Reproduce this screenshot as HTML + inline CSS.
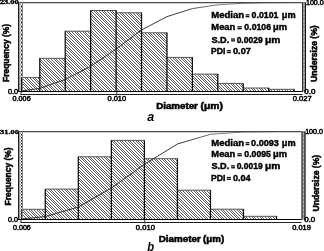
<!DOCTYPE html><html><head><meta charset="utf-8"><style>html,body{margin:0;padding:0;background:#fff;overflow:hidden}svg{display:block;filter:grayscale(1)}text{font-kerning:none}</style></head><body>
<svg width="324" height="251" viewBox="0 0 324 251">
<defs><pattern id="hatch" patternUnits="userSpaceOnUse" x="0" y="0" width="8" height="8"><rect x="0" y="0" width="1" height="1" fill="rgb(92,92,92)"/><rect x="3" y="0" width="1" height="1" fill="rgb(92,92,92)"/><rect x="5" y="0" width="1" height="1" fill="rgb(92,92,92)"/><rect x="1" y="1" width="1" height="1" fill="rgb(92,92,92)"/><rect x="4" y="1" width="1" height="1" fill="rgb(92,92,92)"/><rect x="6" y="1" width="1" height="1" fill="rgb(92,92,92)"/><rect x="2" y="2" width="1" height="1" fill="rgb(92,92,92)"/><rect x="5" y="2" width="1" height="1" fill="rgb(92,92,92)"/><rect x="7" y="2" width="1" height="1" fill="rgb(92,92,92)"/><rect x="0" y="3" width="1" height="1" fill="rgb(92,92,92)"/><rect x="3" y="3" width="1" height="1" fill="rgb(92,92,92)"/><rect x="6" y="3" width="1" height="1" fill="rgb(92,92,92)"/><rect x="1" y="4" width="1" height="1" fill="rgb(92,92,92)"/><rect x="4" y="4" width="1" height="1" fill="rgb(92,92,92)"/><rect x="7" y="4" width="1" height="1" fill="rgb(92,92,92)"/><rect x="0" y="5" width="1" height="1" fill="rgb(92,92,92)"/><rect x="2" y="5" width="1" height="1" fill="rgb(92,92,92)"/><rect x="5" y="5" width="1" height="1" fill="rgb(92,92,92)"/><rect x="1" y="6" width="1" height="1" fill="rgb(92,92,92)"/><rect x="3" y="6" width="1" height="1" fill="rgb(92,92,92)"/><rect x="6" y="6" width="1" height="1" fill="rgb(92,92,92)"/><rect x="2" y="7" width="1" height="1" fill="rgb(92,92,92)"/><rect x="4" y="7" width="1" height="1" fill="rgb(92,92,92)"/><rect x="7" y="7" width="1" height="1" fill="rgb(92,92,92)"/></pattern></defs>
<rect width="324" height="251" fill="#fff"/>
<rect x="21.50" y="77.60" width="18.30" height="13.40" fill="url(#hatch)"/>
<line x1="21.00" y1="77.60" x2="40.30" y2="77.60" stroke="#555" stroke-width="1.0"/>
<rect x="39.80" y="58.30" width="25.43" height="32.70" fill="url(#hatch)"/>
<line x1="39.30" y1="58.30" x2="65.73" y2="58.30" stroke="#555" stroke-width="1.0"/>
<rect x="65.23" y="31.20" width="25.43" height="59.80" fill="url(#hatch)"/>
<line x1="64.73" y1="31.20" x2="91.16" y2="31.20" stroke="#555" stroke-width="1.0"/>
<rect x="90.66" y="10.50" width="25.43" height="80.50" fill="url(#hatch)"/>
<line x1="90.16" y1="10.50" x2="116.59" y2="10.50" stroke="#555" stroke-width="1.0"/>
<rect x="116.09" y="12.80" width="25.43" height="78.20" fill="url(#hatch)"/>
<line x1="115.59" y1="12.80" x2="142.02" y2="12.80" stroke="#555" stroke-width="1.0"/>
<rect x="141.52" y="32.80" width="25.43" height="58.20" fill="url(#hatch)"/>
<line x1="141.02" y1="32.80" x2="167.45" y2="32.80" stroke="#555" stroke-width="1.0"/>
<rect x="166.95" y="57.40" width="25.43" height="33.60" fill="url(#hatch)"/>
<line x1="166.45" y1="57.40" x2="192.88" y2="57.40" stroke="#555" stroke-width="1.0"/>
<rect x="192.38" y="74.10" width="25.43" height="16.90" fill="url(#hatch)"/>
<line x1="191.88" y1="74.10" x2="218.31" y2="74.10" stroke="#555" stroke-width="1.0"/>
<rect x="217.81" y="83.40" width="25.43" height="7.60" fill="url(#hatch)"/>
<line x1="217.31" y1="83.40" x2="243.74" y2="83.40" stroke="#555" stroke-width="1.0"/>
<rect x="243.24" y="88.00" width="25.43" height="3.00" fill="url(#hatch)"/>
<line x1="242.74" y1="88.00" x2="269.17" y2="88.00" stroke="#555" stroke-width="1.0"/>
<rect x="268.67" y="89.30" width="25.43" height="1.70" fill="url(#hatch)"/>
<line x1="268.17" y1="89.30" x2="294.60" y2="89.30" stroke="#555" stroke-width="1.0"/>
<line x1="21.50" y1="77.60" x2="21.50" y2="91.00" stroke="#111" stroke-width="1.3"/>
<line x1="39.80" y1="58.30" x2="39.80" y2="91.00" stroke="#111" stroke-width="1.3"/>
<line x1="65.23" y1="31.20" x2="65.23" y2="91.00" stroke="#111" stroke-width="1.3"/>
<line x1="90.66" y1="10.50" x2="90.66" y2="91.00" stroke="#111" stroke-width="1.3"/>
<line x1="116.09" y1="10.50" x2="116.09" y2="91.00" stroke="#111" stroke-width="1.3"/>
<line x1="141.52" y1="12.80" x2="141.52" y2="91.00" stroke="#111" stroke-width="1.3"/>
<line x1="166.95" y1="32.80" x2="166.95" y2="91.00" stroke="#111" stroke-width="1.3"/>
<line x1="192.38" y1="57.40" x2="192.38" y2="91.00" stroke="#111" stroke-width="1.3"/>
<line x1="217.81" y1="74.10" x2="217.81" y2="91.00" stroke="#111" stroke-width="1.3"/>
<line x1="243.24" y1="83.40" x2="243.24" y2="91.00" stroke="#111" stroke-width="1.3"/>
<line x1="268.67" y1="88.00" x2="268.67" y2="91.00" stroke="#111" stroke-width="1.3"/>
<line x1="294.10" y1="89.30" x2="294.10" y2="91.00" stroke="#111" stroke-width="1.3"/>
<linearGradient id="ga" gradientUnits="userSpaceOnUse" x1="175" y1="0" x2="225" y2="0"><stop offset="0" stop-color="#222"/><stop offset="1" stop-color="#777"/></linearGradient>
<polyline points="21.50,90.90 39.80,88.40 65.20,79.50 90.70,66.30 116.10,49.00 141.50,30.00 167.00,16.60 192.40,8.60 217.80,4.80 243.20,3.30 268.70,2.70 294.10,2.50" fill="none" stroke="url(#ga)" stroke-width="0.9" stroke-linejoin="round"/>
<line x1="18.5" y1="2.7" x2="302.5" y2="2.7" stroke="#4a4a4a" stroke-width="1.3"/>
<line x1="18.5" y1="91.5" x2="302.5" y2="91.5" stroke="#000" stroke-width="1"/>
<line x1="21.0" y1="94.5" x2="302.5" y2="94.5" stroke="#222" stroke-width="1"/>
<line x1="21.0" y1="91.5" x2="21.0" y2="95" stroke="#222" stroke-width="1"/>
<line x1="116.8" y1="92" x2="116.8" y2="95.5" stroke="#333" stroke-width="1"/>
<line x1="18.5" y1="2.5" x2="18.5" y2="92" stroke="#222" stroke-width="1"/>
<line x1="19.5" y1="2.5" x2="19.5" y2="91" stroke="#999" stroke-width="1"/>
<line x1="20.5" y1="3.5" x2="20.5" y2="91" stroke="#aaa" stroke-width="1" stroke-dasharray="2.0,2.0"/>
<line x1="21.5" y1="3.5" x2="21.5" y2="91" stroke="#111" stroke-width="1" stroke-dasharray="2.0,2.0" stroke-dashoffset="2.0"/>
<line x1="22.5" y1="2.5" x2="22.5" y2="91" stroke="#888" stroke-width="1"/>
<rect x="302" y="2.0" width="4" height="89.5" fill="#8a8a8a"/>
<line x1="302.5" y1="2.5" x2="302.5" y2="92" stroke="#333" stroke-width="1"/>
<line x1="305.5" y1="2.5" x2="305.5" y2="92" stroke="#111" stroke-width="1"/>
<line x1="304" y1="4.5" x2="304" y2="91" stroke="#ddd" stroke-width="1" stroke-dasharray="1,3"/>
<text x="-0.35" y="4.10" font-family="Liberation Serif" font-size="6.5" font-weight="bold" font-style="normal" textLength="18.98" lengthAdjust="spacingAndGlyphs" fill="#000" stroke="#000" stroke-width="0.35">23.00</text>
<text x="7.91" y="93.70" font-family="Liberation Sans" font-size="6.5" font-weight="normal" font-style="normal" textLength="10.28" lengthAdjust="spacingAndGlyphs" fill="#000" stroke="#000" stroke-width="0.45">0.0</text>
<text x="12.52" y="101.10" font-family="Liberation Sans" font-size="6.5" font-weight="normal" font-style="normal" textLength="18.20" lengthAdjust="spacingAndGlyphs" fill="#000" stroke="#000" stroke-width="0.45">0.006</text>
<text x="107.51" y="101.10" font-family="Liberation Sans" font-size="6.5" font-weight="normal" font-style="normal" textLength="18.68" lengthAdjust="spacingAndGlyphs" fill="#000" stroke="#000" stroke-width="0.45">0.010</text>
<text x="292.70" y="101.10" font-family="Liberation Sans" font-size="6.5" font-weight="normal" font-style="normal" textLength="18.98" lengthAdjust="spacingAndGlyphs" fill="#000" stroke="#000" stroke-width="0.45">0.027</text>
<text x="305.96" y="4.60" font-family="Liberation Sans" font-size="6.5" font-weight="normal" font-style="normal" textLength="17.82" lengthAdjust="spacingAndGlyphs" fill="#000" stroke="#000" stroke-width="0.45">100.0</text>
<text x="304.39" y="93.50" font-family="Liberation Sans" font-size="6.5" font-weight="normal" font-style="normal" textLength="11.13" lengthAdjust="spacingAndGlyphs" fill="#000" stroke="#000" stroke-width="0.45">0.0</text>
<g transform="translate(8.60,81.40) rotate(-90)"><text x="-0.56" y="0.00" font-family="Liberation Sans" font-size="8.9" font-weight="bold" font-style="normal" textLength="57.98" lengthAdjust="spacingAndGlyphs" fill="#000" stroke="#000" stroke-width="0.5">Frequency (%)</text></g>
<g transform="translate(317.20,81.50) rotate(-90)"><text x="-0.51" y="0.00" font-family="Liberation Sans" font-size="8.9" font-weight="bold" font-style="normal" textLength="56.64" lengthAdjust="spacingAndGlyphs" fill="#000" stroke="#000" stroke-width="0.5">Undersize (%)</text></g>
<text x="156.15" y="109.10" font-family="Liberation Sans" font-size="8.6" font-weight="bold" font-style="normal" textLength="41.70" lengthAdjust="spacingAndGlyphs" fill="#000" stroke="#000" stroke-width="0.5">Diameter</text>
<text x="200.59" y="109.10" font-family="Liberation Sans" font-size="8.6" font-weight="bold" font-style="normal" textLength="22.33" lengthAdjust="spacingAndGlyphs" fill="#000" stroke="#000" stroke-width="0.5">(μm)</text>
<text x="147.24" y="120.90" font-family="Liberation Sans" font-size="12" font-weight="bold" font-style="italic" textLength="7.03" lengthAdjust="spacingAndGlyphs" fill="#000">a</text>
<text x="211.26" y="18.30" font-family="Liberation Sans" font-size="8.4" font-weight="bold" font-style="normal" textLength="32.72" lengthAdjust="spacingAndGlyphs" fill="#000" stroke="#000" stroke-width="0.4">Median</text>
<rect x="245.60" y="14.20" width="3.80" height="1.3" fill="#111"/><rect x="245.60" y="16.00" width="3.80" height="1.3" fill="#111"/>
<text x="251.55" y="18.30" font-family="Liberation Sans" font-size="8.4" font-weight="bold" font-style="normal" textLength="26.89" lengthAdjust="spacingAndGlyphs" fill="#000" stroke="#000" stroke-width="0.4">0.0101</text>
<text x="281.75" y="18.30" font-family="Liberation Sans" font-size="8.4" font-weight="bold" font-style="normal" textLength="13.82" lengthAdjust="spacingAndGlyphs" fill="#000" stroke="#000" stroke-width="0.4">μm</text>
<text x="211.37" y="30.30" font-family="Liberation Sans" font-size="8.4" font-weight="bold" font-style="normal" textLength="23.91" lengthAdjust="spacingAndGlyphs" fill="#000" stroke="#000" stroke-width="0.4">Mean</text>
<rect x="237.40" y="26.20" width="4.40" height="1.3" fill="#111"/><rect x="237.40" y="28.00" width="4.40" height="1.3" fill="#111"/>
<text x="244.36" y="30.30" font-family="Liberation Sans" font-size="8.4" font-weight="bold" font-style="normal" textLength="26.66" lengthAdjust="spacingAndGlyphs" fill="#000" stroke="#000" stroke-width="0.4">0.0106</text>
<text x="273.14" y="30.30" font-family="Liberation Sans" font-size="8.4" font-weight="bold" font-style="normal" textLength="14.04" lengthAdjust="spacingAndGlyphs" fill="#000" stroke="#000" stroke-width="0.4">μm</text>
<text x="211.44" y="42.50" font-family="Liberation Sans" font-size="8.4" font-weight="bold" font-style="normal" textLength="17.79" lengthAdjust="spacingAndGlyphs" fill="#000" stroke="#000" stroke-width="0.4">S.D.</text>
<rect x="231.10" y="38.40" width="3.90" height="1.3" fill="#111"/><rect x="231.10" y="40.20" width="3.90" height="1.3" fill="#111"/>
<text x="236.66" y="42.50" font-family="Liberation Sans" font-size="8.4" font-weight="bold" font-style="normal" textLength="25.95" lengthAdjust="spacingAndGlyphs" fill="#000" stroke="#000" stroke-width="0.4">0.0029</text>
<text x="264.98" y="42.50" font-family="Liberation Sans" font-size="8.4" font-weight="bold" font-style="normal" textLength="15.35" lengthAdjust="spacingAndGlyphs" fill="#000" stroke="#000" stroke-width="0.4">μm</text>
<text x="211.02" y="54.20" font-family="Liberation Sans" font-size="8.4" font-weight="bold" font-style="normal" textLength="14.35" lengthAdjust="spacingAndGlyphs" fill="#000" stroke="#000" stroke-width="0.4">PDI</text>
<rect x="226.80" y="50.10" width="4.10" height="1.3" fill="#111"/><rect x="226.80" y="51.90" width="4.10" height="1.3" fill="#111"/>
<text x="232.93" y="54.20" font-family="Liberation Sans" font-size="8.4" font-weight="bold" font-style="normal" textLength="18.08" lengthAdjust="spacingAndGlyphs" fill="#000" stroke="#000" stroke-width="0.4">0.07</text>
<rect x="22.00" y="209.30" width="23.30" height="9.70" fill="url(#hatch)"/>
<line x1="21.50" y1="209.30" x2="45.80" y2="209.30" stroke="#555" stroke-width="1.0"/>
<rect x="45.30" y="189.10" width="33.03" height="29.90" fill="url(#hatch)"/>
<line x1="44.80" y1="189.10" x2="78.83" y2="189.10" stroke="#555" stroke-width="1.0"/>
<rect x="78.33" y="156.80" width="33.03" height="62.20" fill="url(#hatch)"/>
<line x1="77.83" y1="156.80" x2="111.86" y2="156.80" stroke="#555" stroke-width="1.0"/>
<rect x="111.36" y="140.40" width="33.03" height="78.60" fill="url(#hatch)"/>
<line x1="110.86" y1="140.40" x2="144.89" y2="140.40" stroke="#555" stroke-width="1.0"/>
<rect x="144.39" y="158.70" width="33.03" height="60.30" fill="url(#hatch)"/>
<line x1="143.89" y1="158.70" x2="177.92" y2="158.70" stroke="#555" stroke-width="1.0"/>
<rect x="177.42" y="190.20" width="33.03" height="28.80" fill="url(#hatch)"/>
<line x1="176.92" y1="190.20" x2="210.95" y2="190.20" stroke="#555" stroke-width="1.0"/>
<rect x="210.45" y="209.20" width="33.03" height="9.80" fill="url(#hatch)"/>
<line x1="209.95" y1="209.20" x2="243.98" y2="209.20" stroke="#555" stroke-width="1.0"/>
<rect x="243.48" y="216.30" width="33.03" height="2.70" fill="url(#hatch)"/>
<line x1="242.98" y1="216.30" x2="277.01" y2="216.30" stroke="#555" stroke-width="1.0"/>
<line x1="22.00" y1="209.30" x2="22.00" y2="219.00" stroke="#111" stroke-width="1.3"/>
<line x1="45.30" y1="189.10" x2="45.30" y2="219.00" stroke="#111" stroke-width="1.3"/>
<line x1="78.33" y1="156.80" x2="78.33" y2="219.00" stroke="#111" stroke-width="1.3"/>
<line x1="111.36" y1="140.40" x2="111.36" y2="219.00" stroke="#111" stroke-width="1.3"/>
<line x1="144.39" y1="140.40" x2="144.39" y2="219.00" stroke="#111" stroke-width="1.3"/>
<line x1="177.42" y1="158.70" x2="177.42" y2="219.00" stroke="#111" stroke-width="1.3"/>
<line x1="210.45" y1="190.20" x2="210.45" y2="219.00" stroke="#111" stroke-width="1.3"/>
<line x1="243.48" y1="209.20" x2="243.48" y2="219.00" stroke="#111" stroke-width="1.3"/>
<line x1="276.51" y1="216.30" x2="276.51" y2="219.00" stroke="#111" stroke-width="1.3"/>
<linearGradient id="gb" gradientUnits="userSpaceOnUse" x1="180" y1="0" x2="225" y2="0"><stop offset="0" stop-color="#222"/><stop offset="1" stop-color="#777"/></linearGradient>
<polyline points="22.00,218.90 45.30,216.60 78.30,207.00 111.40,188.00 144.40,164.30 177.40,144.00 210.50,134.30 243.50,132.00 276.50,131.60" fill="none" stroke="url(#gb)" stroke-width="0.9" stroke-linejoin="round"/>
<line x1="18.5" y1="131.7" x2="301.5" y2="131.7" stroke="#4a4a4a" stroke-width="1.3"/>
<line x1="18.5" y1="219.5" x2="301.5" y2="219.5" stroke="#000" stroke-width="1"/>
<line x1="21.0" y1="222.5" x2="301.5" y2="222.5" stroke="#222" stroke-width="1"/>
<line x1="21.0" y1="219.5" x2="21.0" y2="223" stroke="#222" stroke-width="1"/>
<line x1="144.8" y1="220" x2="144.8" y2="223.5" stroke="#333" stroke-width="1"/>
<line x1="18.5" y1="131.5" x2="18.5" y2="220" stroke="#222" stroke-width="1"/>
<line x1="19.5" y1="131.5" x2="19.5" y2="219" stroke="#999" stroke-width="1"/>
<line x1="20.5" y1="132.5" x2="20.5" y2="219" stroke="#aaa" stroke-width="1" stroke-dasharray="1.5,1.5"/>
<line x1="21.5" y1="132.5" x2="21.5" y2="219" stroke="#111" stroke-width="1" stroke-dasharray="1.5,1.5" stroke-dashoffset="1.5"/>
<line x1="22.5" y1="131.5" x2="22.5" y2="219" stroke="#888" stroke-width="1"/>
<rect x="301.5" y="131.0" width="4" height="88.5" fill="#8a8a8a"/>
<line x1="302.0" y1="131.5" x2="302.0" y2="220" stroke="#333" stroke-width="1"/>
<line x1="305.0" y1="131.5" x2="305.0" y2="220" stroke="#111" stroke-width="1"/>
<line x1="303.5" y1="133.5" x2="303.5" y2="219" stroke="#ddd" stroke-width="1" stroke-dasharray="1,3"/>
<text x="-0.02" y="133.50" font-family="Liberation Serif" font-size="6.5" font-weight="bold" font-style="normal" textLength="19.04" lengthAdjust="spacingAndGlyphs" fill="#000" stroke="#000" stroke-width="0.35">31.00</text>
<text x="8.02" y="222.40" font-family="Liberation Sans" font-size="6.5" font-weight="normal" font-style="normal" textLength="9.85" lengthAdjust="spacingAndGlyphs" fill="#000" stroke="#000" stroke-width="0.45">0.0</text>
<text x="13.02" y="229.50" font-family="Liberation Sans" font-size="6.5" font-weight="normal" font-style="normal" textLength="17.79" lengthAdjust="spacingAndGlyphs" fill="#000" stroke="#000" stroke-width="0.45">0.006</text>
<text x="135.80" y="229.50" font-family="Liberation Sans" font-size="6.5" font-weight="normal" font-style="normal" textLength="19.10" lengthAdjust="spacingAndGlyphs" fill="#000" stroke="#000" stroke-width="0.45">0.010</text>
<text x="292.21" y="229.50" font-family="Liberation Sans" font-size="6.5" font-weight="normal" font-style="normal" textLength="18.64" lengthAdjust="spacingAndGlyphs" fill="#000" stroke="#000" stroke-width="0.45">0.019</text>
<text x="305.16" y="133.50" font-family="Liberation Sans" font-size="6.5" font-weight="normal" font-style="normal" textLength="17.82" lengthAdjust="spacingAndGlyphs" fill="#000" stroke="#000" stroke-width="0.45">100.0</text>
<text x="304.19" y="222.10" font-family="Liberation Sans" font-size="6.5" font-weight="normal" font-style="normal" textLength="11.13" lengthAdjust="spacingAndGlyphs" fill="#000" stroke="#000" stroke-width="0.45">0.0</text>
<g transform="translate(10.60,204.90) rotate(-90)"><text x="-0.56" y="0.00" font-family="Liberation Sans" font-size="8.9" font-weight="bold" font-style="normal" textLength="57.98" lengthAdjust="spacingAndGlyphs" fill="#000" stroke="#000" stroke-width="0.5">Frequency (%)</text></g>
<g transform="translate(319.20,211.00) rotate(-90)"><text x="-0.51" y="0.00" font-family="Liberation Sans" font-size="8.9" font-weight="bold" font-style="normal" textLength="56.64" lengthAdjust="spacingAndGlyphs" fill="#000" stroke="#000" stroke-width="0.5">Undersize (%)</text></g>
<text x="158.74" y="241.50" font-family="Liberation Sans" font-size="8.6" font-weight="bold" font-style="normal" textLength="42.01" lengthAdjust="spacingAndGlyphs" fill="#000" stroke="#000" stroke-width="0.5">Diameter</text>
<text x="203.12" y="241.50" font-family="Liberation Sans" font-size="8.6" font-weight="bold" font-style="normal" textLength="21.07" lengthAdjust="spacingAndGlyphs" fill="#000" stroke="#000" stroke-width="0.5">(μm)</text>
<text x="147.31" y="250.60" font-family="Liberation Sans" font-size="12" font-weight="bold" font-style="italic" textLength="6.92" lengthAdjust="spacingAndGlyphs" fill="#000">b</text>
<text x="211.26" y="146.20" font-family="Liberation Sans" font-size="8.4" font-weight="bold" font-style="normal" textLength="32.72" lengthAdjust="spacingAndGlyphs" fill="#000" stroke="#000" stroke-width="0.4">Median</text>
<rect x="245.60" y="142.10" width="3.80" height="1.3" fill="#111"/><rect x="245.60" y="143.90" width="3.80" height="1.3" fill="#111"/>
<text x="251.14" y="146.20" font-family="Liberation Sans" font-size="8.4" font-weight="bold" font-style="normal" textLength="27.69" lengthAdjust="spacingAndGlyphs" fill="#000" stroke="#000" stroke-width="0.4">0.0093</text>
<text x="281.75" y="146.20" font-family="Liberation Sans" font-size="8.4" font-weight="bold" font-style="normal" textLength="13.82" lengthAdjust="spacingAndGlyphs" fill="#000" stroke="#000" stroke-width="0.4">μm</text>
<text x="211.37" y="157.30" font-family="Liberation Sans" font-size="8.4" font-weight="bold" font-style="normal" textLength="23.91" lengthAdjust="spacingAndGlyphs" fill="#000" stroke="#000" stroke-width="0.4">Mean</text>
<rect x="237.40" y="153.20" width="4.40" height="1.3" fill="#111"/><rect x="237.40" y="155.00" width="4.40" height="1.3" fill="#111"/>
<text x="244.36" y="157.30" font-family="Liberation Sans" font-size="8.4" font-weight="bold" font-style="normal" textLength="26.59" lengthAdjust="spacingAndGlyphs" fill="#000" stroke="#000" stroke-width="0.4">0.0095</text>
<text x="273.14" y="157.30" font-family="Liberation Sans" font-size="8.4" font-weight="bold" font-style="normal" textLength="14.04" lengthAdjust="spacingAndGlyphs" fill="#000" stroke="#000" stroke-width="0.4">μm</text>
<text x="211.44" y="169.40" font-family="Liberation Sans" font-size="8.4" font-weight="bold" font-style="normal" textLength="17.79" lengthAdjust="spacingAndGlyphs" fill="#000" stroke="#000" stroke-width="0.4">S.D.</text>
<rect x="231.10" y="165.30" width="3.90" height="1.3" fill="#111"/><rect x="231.10" y="167.10" width="3.90" height="1.3" fill="#111"/>
<text x="236.66" y="169.40" font-family="Liberation Sans" font-size="8.4" font-weight="bold" font-style="normal" textLength="25.95" lengthAdjust="spacingAndGlyphs" fill="#000" stroke="#000" stroke-width="0.4">0.0019</text>
<text x="264.98" y="169.40" font-family="Liberation Sans" font-size="8.4" font-weight="bold" font-style="normal" textLength="15.35" lengthAdjust="spacingAndGlyphs" fill="#000" stroke="#000" stroke-width="0.4">μm</text>
<text x="211.02" y="181.00" font-family="Liberation Sans" font-size="8.4" font-weight="bold" font-style="normal" textLength="14.35" lengthAdjust="spacingAndGlyphs" fill="#000" stroke="#000" stroke-width="0.4">PDI</text>
<rect x="226.80" y="176.90" width="4.10" height="1.3" fill="#111"/><rect x="226.80" y="178.70" width="4.10" height="1.3" fill="#111"/>
<text x="232.94" y="181.00" font-family="Liberation Sans" font-size="8.4" font-weight="bold" font-style="normal" textLength="17.71" lengthAdjust="spacingAndGlyphs" fill="#000" stroke="#000" stroke-width="0.4">0.04</text>
</svg></body></html>
